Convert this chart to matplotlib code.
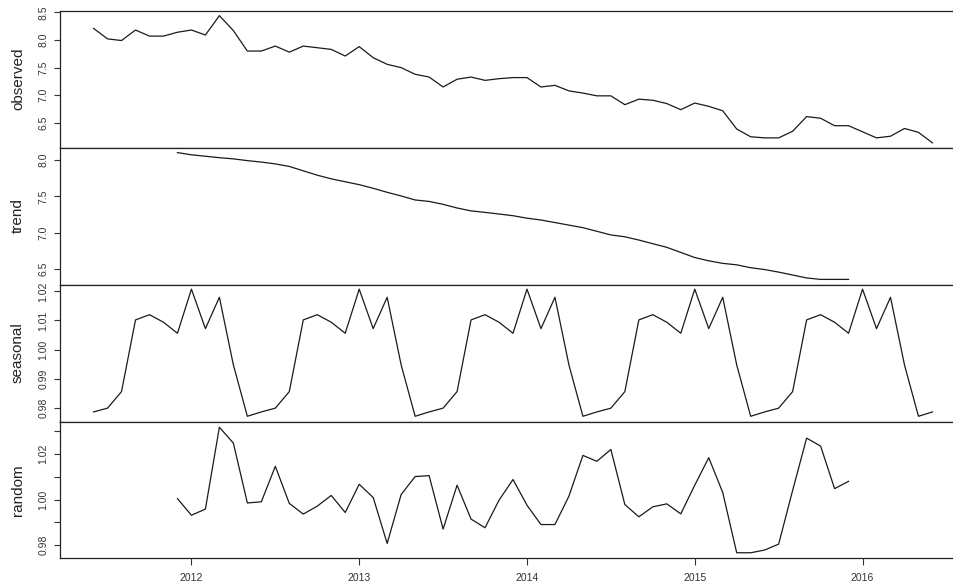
import matplotlib
matplotlib.use("Agg")
import matplotlib.pyplot as plt
import numpy as np

# Monthly series, June 2011 .. June 2016
start_year = 2011
start_month = 6

observed = [
    8.21, 8.02, 7.99, 8.18, 8.07, 8.07, 8.14, 8.18, 8.09, 8.44,
    8.17, 7.80, 7.80, 7.89, 7.78, 7.89, 7.86, 7.83, 7.71, 7.88,
    7.68, 7.56, 7.50, 7.38, 7.33, 7.15, 7.29, 7.33, 7.27, 7.30,
    7.32, 7.32, 7.15, 7.18, 7.08, 7.04, 6.99, 6.99, 6.83, 6.93,
    6.91, 6.85, 6.74, 6.86, 6.80, 6.72, 6.39, 6.25, 6.23, 6.23,
    6.35, 6.615, 6.585, 6.45, 6.45, 6.34, 6.23, 6.26, 6.40, 6.33,
    6.14,
]

# centred moving average: first and last six months are undefined
trend = [None] * 6 + [
    8.10, 8.07, 8.05, 8.03, 8.014, 7.99, 7.97, 7.945, 7.91, 7.85,
    7.79, 7.74, 7.70, 7.66, 7.61, 7.555, 7.505, 7.45, 7.43, 7.39,
    7.34, 7.30, 7.28, 7.257, 7.234, 7.20, 7.175, 7.14, 7.105, 7.07,
    7.02, 6.97, 6.945, 6.90, 6.85, 6.80, 6.73, 6.66, 6.615, 6.58,
    6.56, 6.52, 6.495, 6.46, 6.42, 6.38, 6.36, 6.36, 6.36,
] + [None] * 6

# one seasonal cycle starting in June
seasonal_cycle = [
    0.9785, 0.9798, 0.9855, 1.0102, 1.0120, 1.0094,
    1.0056, 1.0208, 1.0072, 1.0180, 0.9947, 0.9770,
]

random_part = [None] * 6 + [
    1.0004, 0.9931, 0.9958, 1.0318, 1.0248, 0.9985, 0.9990, 1.0146, 0.9983, 0.9936,
    0.9971, 1.0018, 0.9943, 1.0067, 1.0009, 0.9807, 1.0022, 1.0101, 1.0105, 0.9870,
    1.0063, 0.9914, 0.9876, 0.9997, 1.0088, 0.9975, 0.9890, 0.9890, 1.0015, 1.0194,
    1.0168, 1.0220, 0.9978, 0.9924, 0.9968, 0.9981, 0.9937, 1.0063, 1.0184, 1.0031,
    0.9766, 0.9766, 0.9778, 0.9804, 1.0040, 1.0270, 1.0235, 1.0048, 1.0080,
] + [None] * 6

n = len(observed)
t = start_year + (start_month - 1) / 12 + np.arange(n) / 12
seasonal = [seasonal_cycle[i % 12] for i in range(n)]


def as_array(values):
    return np.array([np.nan if v is None else v for v in values], dtype=float)


panels = [
    ("observed", as_array(observed), (6.056, 8.524), [6.5, 7.0, 7.5, 8.0, 8.5], None),
    ("trend", as_array(trend), (6.29, 8.17), [6.5, 7.0, 7.5, 8.0], None),
    ("seasonal", as_array(seasonal), (0.9752, 1.0224),
     [0.98, 0.99, 1.00, 1.01, 1.02], None),
    ("random", as_array(random_part), (0.9743, 1.0343),
     [0.98, 0.99, 1.00, 1.01, 1.02, 1.03], [0.98, 1.00, 1.02]),
]

W, H = 954, 585
fig = plt.figure(figsize=(W / 100, H / 100), dpi=100)
plt.rcParams["font.family"] = ["Liberation Sans", "DejaVu Sans"]

left, right = 60, 966
edges = [11, 147.5, 284.5, 421.5, 558]
xlim = (t[0] - 0.04 * (t[-1] - t[0]), t[-1] + 0.04 * (t[-1] - t[0]))
tick_col = "#333333"

for k, (name, y, ylim, ticks, labelled) in enumerate(panels):
    top, bottom = edges[k], edges[k + 1]
    ax = fig.add_axes([left / W, 1 - bottom / H, (right - left) / W, (bottom - top) / H])
    ax.plot(t, y, color="#1a1a1a", lw=0.9)
    ax.set_xlim(xlim)
    ax.set_ylim(ylim)
    for side in ("top", "bottom", "left"):
        ax.spines[side].set_color("#222222")
        ax.spines[side].set_linewidth(0.9)
    ax.spines["right"].set_visible(False)

    ax.set_yticks(ticks)
    if labelled is None:
        labels = [f"{v:.1f}" if name in ("observed", "trend") else f"{v:.2f}" for v in ticks]
    else:
        labels = [f"{v:.2f}" if v in labelled else "" for v in ticks]
    ax.set_yticklabels(labels)
    ax.tick_params(axis="y", length=4.5, width=0.8, color=tick_col, pad=4,
                   labelsize=7.5, labelcolor=tick_col, labelrotation=90)
    for lab in ax.get_yticklabels():
        lab.set_va("center")

    ax.set_ylabel(name, fontsize=11, color="#222222", va="center")
    ax.yaxis.set_label_coords(-(left - 18) / (right - left), 0.5)

    if k == len(panels) - 1:
        ax.set_xticks([2012, 2013, 2014, 2015, 2016])
        ax.set_xticklabels(["2012", "2013", "2014", "2015", "2016"])
        ax.tick_params(axis="x", length=5, width=0.8, color=tick_col, pad=6,
                       labelsize=7.5, labelcolor=tick_col)
    else:
        ax.set_xticks([])

fig.savefig("out.png", dpi=100)
